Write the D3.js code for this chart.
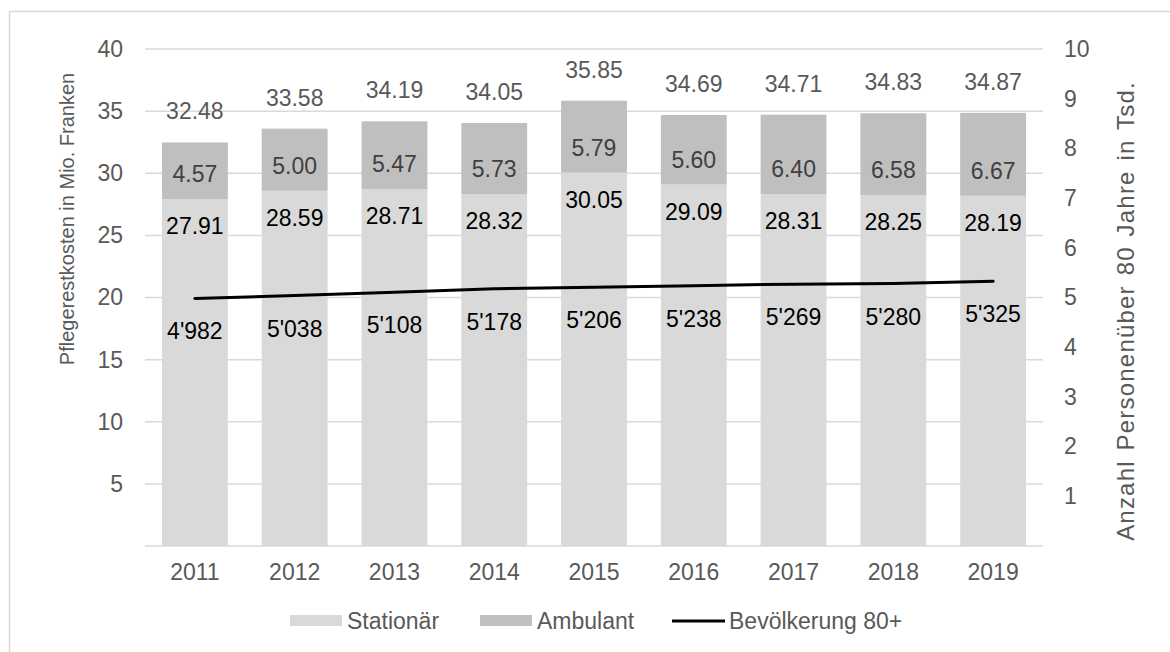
<!DOCTYPE html>
<html>
<head>
<meta charset="utf-8">
<script src="https://cdn.jsdelivr.net/npm/d3@7"></script>
<style>
  body { margin: 0; background: #fff; }
  svg { display: block; font-family: 'Liberation Sans', Arial, sans-serif; }
</style>
</head>
<body>
<div id="chart"></div>
<script>
const years = ['2011', '2012', '2013', '2014', '2015', '2016', '2017', '2018', '2019'];
const stationaer = [27.91, 28.59, 28.71, 28.32, 30.05, 29.09, 28.31, 28.25, 28.19];
const ambulant = [4.57, 5.0, 5.47, 5.73, 5.79, 5.6, 6.4, 6.58, 6.67];
const totals = [32.48, 33.58, 34.19, 34.05, 35.85, 34.69, 34.71, 34.83, 34.87];
const bevoelkerung = [4982, 5038, 5108, 5178, 5206, 5238, 5269, 5280, 5325];
const leftTicks = [5, 10, 15, 20, 25, 30, 35, 40];
const rightTicks = [1, 2, 3, 4, 5, 6, 7, 8, 9, 10];

const width = 1170;
const height = 652;
const plot = { left: 145, right: 1043, top: 49, bottom: 546 };
const fontSize = 23;

const svg = d3
  .select('#chart')
  .append('svg')
  .attr('width', width)
  .attr('height', height);

// outer frame
svg
  .append('rect')
  .attr('x', 9.5)
  .attr('y', 11.5)
  .attr('width', width)
  .attr('height', height)
  .attr('fill', 'none')
  .attr('stroke', '#d9d9d9')
  .attr('stroke-width', 1.5);

const x = d3.scaleBand().domain(years).range([plot.left, plot.right]).paddingInner(0.34).paddingOuter(0.17);
const yLeft = d3.scaleLinear().domain([0, 40]).range([plot.bottom, plot.top]);
const yRight = d3.scaleLinear().domain([0, 10]).range([plot.bottom, plot.top]);

const fmtPop = d3.formatLocale({ decimal: '.', thousands: "'", grouping: [3], currency: ['', ''] }).format(',');

// gridlines
svg
  .append('g')
  .selectAll('line')
  .data([0, ...leftTicks])
  .enter()
  .append('line')
  .attr('x1', plot.left)
  .attr('x2', plot.right)
  .attr('y1', (d) => yLeft(d))
  .attr('y2', (d) => yLeft(d))
  .attr('stroke', '#d9d9d9')
  .attr('stroke-width', 1.5);

// left axis
const axisL = svg
  .append('g')
  .attr('transform', `translate(${plot.left},0)`)
  .call(d3.axisLeft(yLeft).tickValues(leftTicks).tickSize(0).tickPadding(22));
axisL.select('.domain').remove();
axisL.selectAll('text').attr('fill', '#595959').style('font-size', fontSize + 'px').style('font-family', 'inherit');

// right axis
const axisR = svg
  .append('g')
  .attr('transform', `translate(${plot.right},0)`)
  .call(d3.axisRight(yRight).tickValues(rightTicks).tickSize(0).tickPadding(21));
axisR.select('.domain').remove();
axisR.selectAll('text').attr('fill', '#595959').style('font-size', fontSize + 'px').style('font-family', 'inherit');

// x axis
const axisX = svg
  .append('g')
  .attr('transform', `translate(0,${plot.bottom})`)
  .call(d3.axisBottom(x).tickSize(0).tickPadding(18));
axisX.select('.domain').remove();
axisX.selectAll('text').attr('fill', '#595959').style('font-size', fontSize + 'px').style('font-family', 'inherit');

// bars
const bars = svg.append('g');
bars
  .selectAll('.stat')
  .data(years)
  .enter()
  .append('rect')
  .attr('x', (d) => x(d))
  .attr('width', x.bandwidth())
  .attr('y', (d, i) => yLeft(stationaer[i]))
  .attr('height', (d, i) => yLeft(0) - yLeft(stationaer[i]))
  .attr('fill', '#d9d9d9');

bars
  .selectAll('.amb')
  .data(years)
  .enter()
  .append('rect')
  .attr('x', (d) => x(d))
  .attr('width', x.bandwidth())
  .attr('y', (d, i) => yLeft(stationaer[i] + ambulant[i]))
  .attr('height', (d, i) => yLeft(stationaer[i]) - yLeft(stationaer[i] + ambulant[i]))
  .attr('fill', '#bfbfbf');

// population line
const line = d3
  .line()
  .x((d, i) => x(years[i]) + x.bandwidth() / 2)
  .y((d) => yRight(d / 1000));

svg
  .append('path')
  .datum(bevoelkerung)
  .attr('d', line)
  .attr('fill', 'none')
  .attr('stroke', '#000')
  .attr('stroke-width', 3)
  .attr('stroke-linecap', 'round');

// labels
const labels = svg.append('g').style('font-size', fontSize + 'px').attr('text-anchor', 'middle');
const cx = (i) => x(years[i]) + x.bandwidth() / 2;

labels
  .selectAll('.tot')
  .data(totals)
  .enter()
  .append('text')
  .attr('x', (d, i) => cx(i))
  .attr('y', (d, i) => yLeft(stationaer[i] + ambulant[i]) - 31)
  .attr('dy', '0.35em')
  .attr('fill', '#595959')
  .text((d) => d.toFixed(2));

labels
  .selectAll('.amb')
  .data(ambulant)
  .enter()
  .append('text')
  .attr('x', (d, i) => cx(i))
  .attr('y', (d, i) => yLeft(stationaer[i]) - 25)
  .attr('dy', '0.35em')
  .attr('fill', '#404040')
  .text((d) => d.toFixed(2));

labels
  .selectAll('.stat')
  .data(stationaer)
  .enter()
  .append('text')
  .attr('x', (d, i) => cx(i))
  .attr('y', (d) => yLeft(d) + 27)
  .attr('dy', '0.35em')
  .attr('fill', '#000')
  .text((d) => d.toFixed(2));

labels
  .selectAll('.pop')
  .data(bevoelkerung)
  .enter()
  .append('text')
  .attr('x', (d, i) => cx(i))
  .attr('y', (d) => yRight(d / 1000) + 33)
  .attr('dy', '0.35em')
  .attr('fill', '#000')
  .text((d) => fmtPop(d));

// axis titles
svg
  .append('text')
  .attr('transform', 'translate(74,219) rotate(-90)')
  .attr('text-anchor', 'middle')
  .attr('fill', '#595959')
  .style('font-size', '20px')
  .text('Pflegerestkosten in Mio. Franken');

svg
  .append('text')
  .attr('transform', 'translate(1134,311) rotate(-90)')
  .attr('text-anchor', 'middle')
  .attr('fill', '#595959')
  .style('font-size', '24px')
  .style('letter-spacing', '1.2px')
  .style('word-spacing', '2px')
  .text('Anzahl Personenüber 80 Jahre in Tsd.');

// legend
const legend = svg.append('g').style('font-size', fontSize + 'px').attr('fill', '#595959');
const legendItems = [
  { name: 'Stationär', type: 'rect', color: '#d9d9d9', x: 290 },
  { name: 'Ambulant', type: 'rect', color: '#bfbfbf', x: 480 },
  { name: 'Bevölkerung 80+', type: 'line', color: '#000', x: 672 },
];
legendItems.forEach((d) => {
  if (d.type === 'rect') {
    legend.append('rect').attr('x', d.x).attr('y', 615).attr('width', 52).attr('height', 11).attr('fill', d.color);
  } else {
    legend.append('line').attr('x1', d.x).attr('x2', d.x + 53).attr('y1', 621).attr('y2', 621).attr('stroke', d.color).attr('stroke-width', 3);
  }
  legend
    .append('text')
    .attr('x', d.x + 57)
    .attr('y', 621)
    .attr('dy', '0.35em')
    .text(d.name);
});
</script>
</body>
</html>
